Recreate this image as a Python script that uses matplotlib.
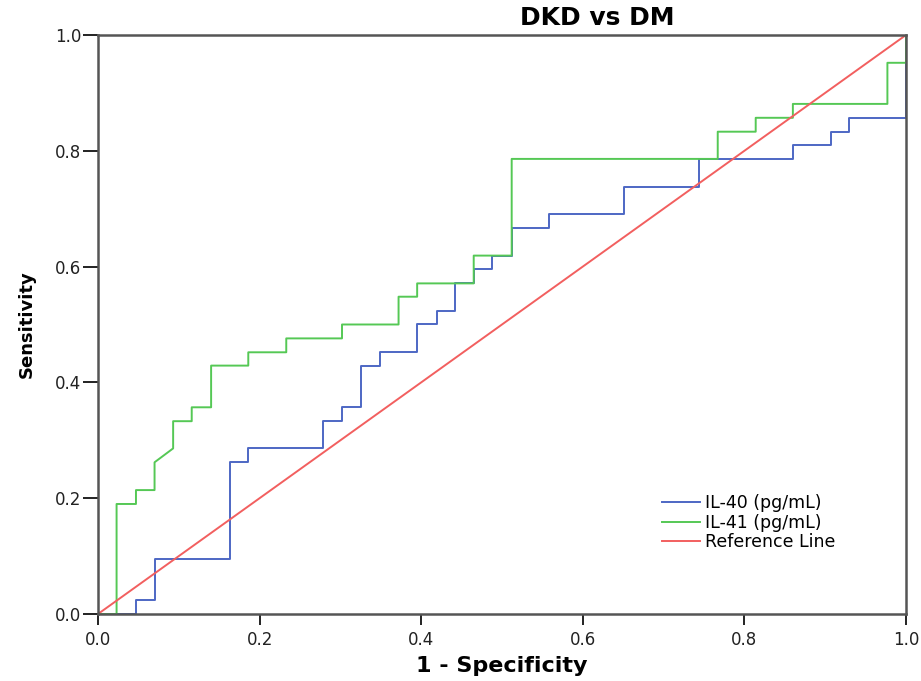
import matplotlib
matplotlib.use("Agg")
import matplotlib.pyplot as plt

plt.rcParams['font.family'] = ['DejaVu Sans']

# ROC curve points (1 - specificity, sensitivity)
il40_fpr = [0, 0.047, 0.047, 0.070, 0.070, 0.163, 0.163, 0.186, 0.186, 0.279, 0.279,
            0.302, 0.302, 0.326, 0.326, 0.349, 0.349, 0.395, 0.395, 0.419, 0.419,
            0.442, 0.442, 0.465, 0.465, 0.488, 0.488, 0.512, 0.512, 0.558, 0.558,
            0.651, 0.651, 0.744, 0.744, 0.860, 0.860, 0.907, 0.907, 0.930, 0.930,
            1.0, 1.0]
il40_tpr = [0, 0, 0.024, 0.024, 0.095, 0.095, 0.262, 0.262, 0.286, 0.286, 0.333,
            0.333, 0.357, 0.357, 0.429, 0.429, 0.452, 0.452, 0.500, 0.500, 0.524,
            0.524, 0.571, 0.571, 0.595, 0.595, 0.619, 0.619, 0.667, 0.667, 0.690,
            0.690, 0.738, 0.738, 0.786, 0.786, 0.810, 0.810, 0.833, 0.833, 0.857,
            0.857, 1.0]

il41_fpr = [0, 0.023, 0.023, 0.047, 0.047, 0.070, 0.070, 0.093, 0.093, 0.116, 0.116,
            0.140, 0.140, 0.186, 0.186, 0.233, 0.233, 0.302, 0.302, 0.372, 0.372,
            0.395, 0.395, 0.465, 0.465, 0.512, 0.512, 0.767, 0.767, 0.814, 0.814,
            0.860, 0.860, 0.977, 0.977, 1.0, 1.0]
il41_tpr = [0, 0, 0.190, 0.190, 0.214, 0.214, 0.262, 0.286, 0.333, 0.333, 0.357,
            0.357, 0.429, 0.429, 0.452, 0.452, 0.476, 0.476, 0.500, 0.500, 0.548,
            0.548, 0.571, 0.571, 0.619, 0.619, 0.786, 0.786, 0.833, 0.833, 0.857,
            0.857, 0.881, 0.881, 0.952, 0.952, 1.0]

ref_x = [0, 1]
ref_y = [0, 1]

ticks = [0.0, 0.2, 0.4, 0.6, 0.8, 1.0]

fig = plt.figure(figsize=(9.21, 6.81), dpi=100)
ax = fig.add_axes([0.1064, 0.0984, 0.8773, 0.8502])

ax.plot(il40_fpr, il40_tpr, color='#4d67c4', lw=1.4, label='IL-40 (pg/mL)')
ax.plot(il41_fpr, il41_tpr, color='#55c855', lw=1.4, label='IL-41 (pg/mL)')
ax.plot(ref_x, ref_y, color='#f25f5f', lw=1.4, label='Reference Line')

ax.set_xlim(0, 1)
ax.set_ylim(0, 1)
ax.set_xticks(ticks)
ax.set_yticks(ticks)
ax.set_xticklabels([f"{t:.1f}" for t in ticks], fontsize=12, color='#222222')
ax.set_yticklabels([f"{t:.1f}" for t in ticks], fontsize=12, color='#222222')
ax.tick_params(axis='y', direction='out', length=11, width=1.4, color='#222222', pad=1)
ax.tick_params(axis='x', direction='out', length=8, width=1.4, color='#222222', pad=4)

for s in ax.spines.values():
    s.set_color('#555555')
    s.set_linewidth(1.8)

ax.set_xlabel('1 - Specificity', fontsize=16, fontweight='bold', labelpad=5)
ax.set_ylabel('Sensitivity', fontsize=13, fontweight='bold', labelpad=14)
fig.text(597 / 921, 1 - 18 / 681, 'DKD vs DM', fontsize=18, fontweight='bold',
         ha='center', va='center')

ax.legend(loc='upper left', bbox_to_anchor=(662 / 921, 1 - 494 / 681),
          bbox_transform=fig.transFigure, frameon=False, borderpad=0,
          borderaxespad=0, fontsize=12.5, handlelength=2.2, handletextpad=0.3,
          labelspacing=0.1)

fig.savefig('out.png', dpi=100)
